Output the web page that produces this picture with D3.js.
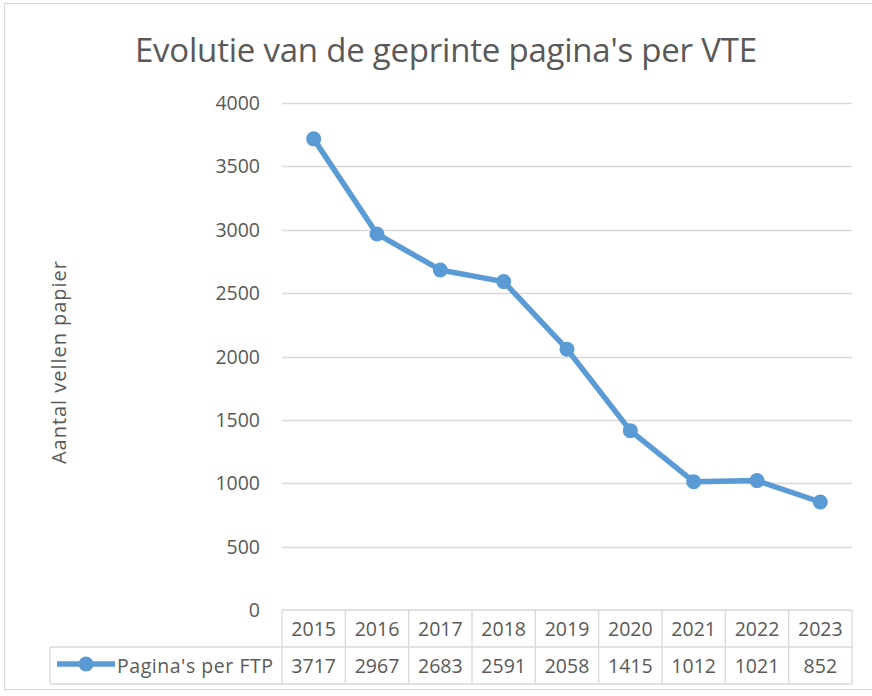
<!DOCTYPE html>
<html lang="nl">
<head>
  <meta charset="UTF-8" />
  <title>Evolutie van de geprinte pagina's per VTE</title>
  <script src="https://d3js.org/d3.v7.min.js"></script>
  <style>
    body { margin: 0; background: #fff; }
    svg text { font-family: "Open Sans", sans-serif; fill: #595959; }
  </style>
</head>
<body>
  <svg id="chart" width="872" height="696"></svg>
  <script>
    const years = ['2015', '2016', '2017', '2018', '2019', '2020', '2021', '2022', '2023'];
    const pagesPerFtp = [3717, 2967, 2683, 2591, 2058, 1415, 1012, 1021, 852];
    const yTicks = [0, 500, 1000, 1500, 2000, 2500, 3000, 3500, 4000];
    const seriesName = "Pagina's per FTP";

    const svg = d3.select('#chart');
    const color = '#5b9bd5';
    const gridColor = '#d9d9d9';

    const plot = { left: 282, right: 852, top: 103, bottom: 610 };

    // outer chart border
    svg.append('rect')
      .attr('x', 4.5).attr('y', 3.5)
      .attr('width', 880).attr('height', 686)
      .attr('fill', 'none')
      .attr('stroke', gridColor);

    svg.append('text')
      .attr('x', 446)
      .attr('y', 62)
      .attr('text-anchor', 'middle')
      .style('font-size', '33px')
      .attr('textLength', 622)
      .text("Evolutie van de geprinte pagina's per VTE");

    const x = d3.scaleBand()
      .domain(years)
      .range([plot.left, plot.right]);

    const y = d3.scaleLinear()
      .domain([0, 4000])
      .range([plot.bottom, plot.top]);

    // gridlines
    svg.append('g')
      .selectAll('line')
      .data(yTicks.filter(d => d > 0))
      .join('line')
      .attr('x1', plot.left).attr('x2', plot.right)
      .attr('y1', d => Math.round(y(d)) + 0.5)
      .attr('y2', d => Math.round(y(d)) + 0.5)
      .attr('stroke', gridColor)
      .attr('stroke-width', 1.3);

    // y axis labels
    svg.append('g')
      .selectAll('text')
      .data(yTicks)
      .join('text')
      .attr('x', 260)
      .attr('y', d => y(d) + 7)
      .attr('text-anchor', 'end')
      .style('font-size', '19.5px')
      .text(d => d);

    svg.append('text')
      .attr('transform', `translate(66,${(plot.top + plot.bottom) / 2 + 6}) rotate(-90)`)
      .attr('text-anchor', 'middle')
      .style('font-size', '20px')
      .attr('textLength', 203)
      .text('Aantal vellen papier');

    // data table
    const rowTop = 610, rowMid = 647, rowBot = 684, tableLeft = 50;
    const table = svg.append('g')
      .attr('stroke', gridColor)
      .attr('stroke-width', 1.3)
      .attr('fill', 'none');

    table.append('line').attr('x1', plot.left).attr('x2', plot.right).attr('y1', rowTop).attr('y2', rowTop);
    table.append('line').attr('x1', tableLeft).attr('x2', plot.right).attr('y1', rowMid).attr('y2', rowMid);
    table.append('line').attr('x1', tableLeft).attr('x2', plot.right).attr('y1', rowBot).attr('y2', rowBot);
    table.append('line').attr('x1', tableLeft).attr('x2', tableLeft).attr('y1', rowMid).attr('y2', rowBot);
    table.selectAll('.col')
      .data(years.concat(['end']))
      .join('line')
      .attr('x1', (d, i) => plot.left + i * x.bandwidth())
      .attr('x2', (d, i) => plot.left + i * x.bandwidth())
      .attr('y1', rowTop).attr('y2', rowBot);

    svg.append('g')
      .selectAll('text')
      .data(years)
      .join('text')
      .attr('x', d => x(d) + x.bandwidth() / 2)
      .attr('y', rowTop + 26)
      .attr('text-anchor', 'middle')
      .style('font-size', '19.5px')
      .text(d => d);

    svg.append('g')
      .selectAll('text')
      .data(pagesPerFtp)
      .join('text')
      .attr('x', (d, i) => x(years[i]) + x.bandwidth() / 2)
      .attr('y', rowMid + 26)
      .attr('text-anchor', 'middle')
      .style('font-size', '19.5px')
      .text(d => d);

    // legend key in table
    svg.append('line')
      .attr('x1', 57).attr('x2', 115)
      .attr('y1', 664).attr('y2', 664)
      .attr('stroke', color)
      .attr('stroke-width', 5.5);
    svg.append('circle')
      .attr('cx', 86).attr('cy', 664).attr('r', 7.5)
      .attr('fill', color);
    svg.append('text')
      .attr('x', 117)
      .attr('y', rowMid + 26)
      .style('font-size', '19.5px')
      .attr('textLength', 156)
      .text(seriesName);

    // series line
    const line = d3.line()
      .x((d, i) => x(years[i]) + x.bandwidth() / 2)
      .y(d => y(d));

    svg.append('path')
      .datum(pagesPerFtp)
      .attr('d', line)
      .attr('fill', 'none')
      .attr('stroke', color)
      .attr('stroke-width', 5.5)
      .attr('stroke-linejoin', 'round');

    svg.append('g')
      .selectAll('circle')
      .data(pagesPerFtp)
      .join('circle')
      .attr('cx', (d, i) => x(years[i]) + x.bandwidth() / 2)
      .attr('cy', d => y(d))
      .attr('r', 7.5)
      .attr('fill', color);
  </script>
</body>
</html>
